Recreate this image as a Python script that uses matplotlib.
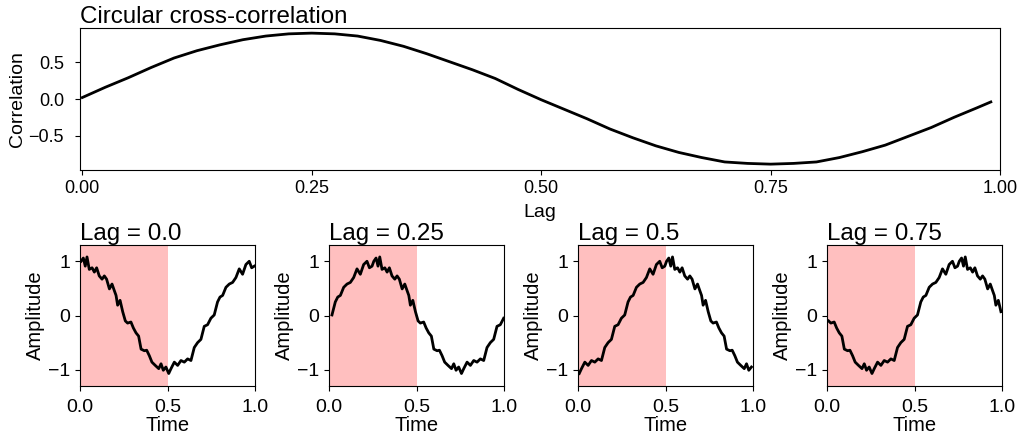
import numpy as np
import matplotlib
matplotlib.use('Agg')
import matplotlib.pyplot as plt

plt.rcParams['font.family'] = ['Liberation Sans', 'DejaVu Sans']
plt.rcParams['axes.unicode_minus'] = True

# circular cross-correlation
lag_pts = [0.000, 0.025, 0.050, 0.075, 0.100, 0.125, 0.150, 0.175, 0.200, 0.225,
           0.250, 0.275, 0.300, 0.325, 0.350, 0.375, 0.400, 0.425, 0.450, 0.475,
           0.500, 0.525, 0.550, 0.575, 0.600, 0.625, 0.650, 0.675, 0.700, 0.725,
           0.750, 0.775, 0.800, 0.825, 0.850, 0.875, 0.900, 0.925, 0.950, 0.975,
           0.990]
corr = [0.02, 0.16, 0.29, 0.43, 0.56, 0.66, 0.74, 0.81, 0.86, 0.89,
        0.90, 0.89, 0.86, 0.80, 0.72, 0.62, 0.51, 0.40, 0.28, 0.13,
        -0.01, -0.14, -0.27, -0.41, -0.53, -0.64, -0.73, -0.80, -0.86, -0.88,
        -0.89, -0.88, -0.86, -0.80, -0.72, -0.63, -0.51, -0.39, -0.25, -0.12,
        -0.04]

# base signal (Lag = 0.0 panel)
t_sig = [0.006, 0.019, 0.030, 0.040, 0.053, 0.069, 0.082, 0.095, 0.110, 0.126,
         0.139, 0.152, 0.168, 0.183, 0.196, 0.206, 0.215, 0.229, 0.244, 0.259,
         0.272, 0.291, 0.305, 0.320, 0.335, 0.349, 0.368, 0.381, 0.396, 0.411,
         0.430, 0.450, 0.463, 0.476, 0.491, 0.507, 0.520, 0.539, 0.558, 0.577,
         0.596, 0.615, 0.634, 0.653, 0.672, 0.691, 0.710, 0.729, 0.748, 0.767,
         0.786, 0.800, 0.815, 0.834, 0.853, 0.872, 0.891, 0.910, 0.929, 0.948,
         0.967, 0.981, 0.996]
amp = [1.00, 1.06, 0.91, 1.08, 0.85, 0.88, 0.80, 0.88, 0.73, 0.67,
       0.73, 0.67, 0.49, 0.58, 0.46, 0.37, 0.19, 0.28, 0.07, -0.10,
       -0.14, -0.12, -0.23, -0.32, -0.38, -0.62, -0.65, -0.64, -0.74, -0.86,
       -0.92, -0.98, -0.89, -1.01, -0.95, -1.07, -0.98, -0.86, -0.92, -0.83,
       -0.86, -0.80, -0.83, -0.59, -0.50, -0.44, -0.20, -0.17, -0.05, 0.01,
       0.25, 0.34, 0.37, 0.52, 0.58, 0.61, 0.70, 0.86, 0.76, 0.94,
       1.00, 0.88, 0.91]
lags = [0.0, 0.25, 0.5, 0.75]

fig = plt.figure(figsize=(10.31, 4.4), dpi=100)
W, H = 1031, 440

ax = fig.add_axes([80/W, 1-170/H, 920/W, 142/H])
ax.plot(lag_pts, corr, color='black', lw=2)
ax.set_xlim(-0.0025, 1.0)
ax.set_ylim(-0.97, 0.97)
ax.set_xticks([0, 0.25, 0.5, 0.75, 1.0])
ax.set_yticks([-0.5, 0, 0.5])
ax.tick_params(labelsize=13)
ax.tick_params(axis='y', pad=8)
ax.set_xlabel('Lag', fontsize=14, labelpad=5)
ax.set_ylabel('Correlation', fontsize=14, labelpad=2)
ax.set_title('Circular cross-correlation', fontsize=17.4, loc='left', pad=2)

t = np.asarray(t_sig); a = np.asarray(amp)
for i, lag in enumerate(lags):
    bx = fig.add_axes([(80 + i*249)/W, 1-386/H, 175/W, 141/H])
    tt = (t + lag) % 1.0
    order = np.argsort(tt)
    bx.axvspan(0, 0.5, color='red', alpha=0.25, lw=0)
    bx.plot(tt[order], a[order], color='black', lw=2)
    bx.set_xlim(0, 1)
    bx.set_ylim(-1.3, 1.3)
    bx.set_xticks([0, 0.5, 1.0])
    bx.set_yticks([-1, 0, 1])
    bx.tick_params(labelsize=14)
    bx.tick_params(axis='x', pad=6)
    bx.set_xlabel('Time', fontsize=14.5, labelpad=0)
    bx.set_ylabel('Amplitude', fontsize=14.5, labelpad=2)
    bx.set_title(f'Lag = {lag}', fontsize=17.4, loc='left', pad=1)

fig.savefig('out.png', dpi=100)
